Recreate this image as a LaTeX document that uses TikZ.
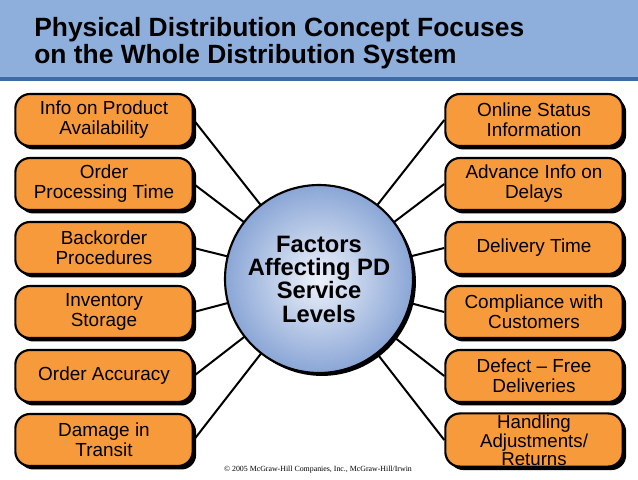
\documentclass[tikz,border=0pt]{standalone}
\usepackage{fontspec}
\setmainfont{Liberation Sans}
\newfontfamily\serifcr{Liberation Serif}
\usetikzlibrary{shadows}
\definecolor{hdr}{HTML}{8EAFDC}
\definecolor{hdrline}{HTML}{3F6AA6}
\definecolor{boxorange}{HTML}{F79A3C}
\definecolor{circout}{HTML}{8AA6D6}
\definecolor{circin}{HTML}{EEF2FA}
\tikzset{
  factor/.style={draw=black, line width=1.6pt, fill=boxorange, rounded corners=11pt,
    minimum width=133pt, minimum height=39pt, align=center, inner sep=1pt,
    font=\fontsize{14.2pt}{15pt}\selectfont,
    general shadow={fill=black, shadow xshift=2.6pt, shadow yshift=-2.6pt}},
  spoke/.style={line width=1.5pt, black},
  hub/.style={circle, draw=black, line width=1.6pt, minimum size=141pt, inner sep=0pt,
    inner color=circin, outer color=circout, align=center,
    font=\bfseries\fontsize{17.8pt}{17.5pt}\selectfont,
    general shadow={fill=black, shadow xshift=2.2pt, shadow yshift=-2.2pt}},
}
\begin{document}
\begin{tikzpicture}[x=0.75pt,y=-0.75pt]
\useasboundingbox (0,0) rectangle (638,479);
\fill[white] (0,0) rectangle (638,479);
\fill[hdr] (0,0) rectangle (638,78);
\fill[hdrline] (0,77) rectangle (638,80.5);
\node[anchor=north west, align=left, inner sep=0pt, font=\bfseries\fontsize{19.8pt}{20.5pt}\selectfont] (title) at (34,17)
  {Physical Distribution Concept Focuses\\on the Whole Distribution System};

\coordinate (hubc) at (319,279);
\node[factor] (l1) at (104,120) {Info on Product\\Availability};
\node[factor] (l2) at (104,184) {Order\\Processing Time};
\node[factor] (l3) at (104,248) {Backorder\\Procedures};
\node[factor] (l4) at (104,312) {Inventory\\Storage};
\node[factor] (l5) at (104,376) {Order Accuracy};
\node[factor] (l6) at (104,440) {Damage in\\Transit};
\node[factor] (r1) at (534,120) {Online Status\\Information};
\node[factor] (r2) at (534,184) {Advance Info on\\Delays};
\node[factor] (r3) at (534,248) {Delivery Time};
\node[factor] (r4) at (534,312) {Compliance with\\Customers};
\node[factor] (r5) at (534,376) {Defect -- Free\\Deliveries};
\node[factor, font=\fontsize{14pt}{11pt}\selectfont] (r6) at (534,440) {Handling\\Adjustments/\\Returns};

\foreach \n in {l1,l2,l3,l4,l5,l6} \draw[spoke] (\n.east) -- (hubc);
\foreach \n in {r1,r2,r3,r4,r5,r6} \draw[spoke] (\n.west) -- (hubc);

\node[hub] (hub) at (hubc) {Factors\\Affecting PD\\Service\\Levels};

\node[font=\serifcr\fontsize{5.9pt}{6pt}\selectfont, inner sep=0pt] (copy) at (318,470)
  {\textcopyright{} 2005 McGraw-Hill Companies, Inc., McGraw-Hill/Irwin};
\end{tikzpicture}
\end{document}
